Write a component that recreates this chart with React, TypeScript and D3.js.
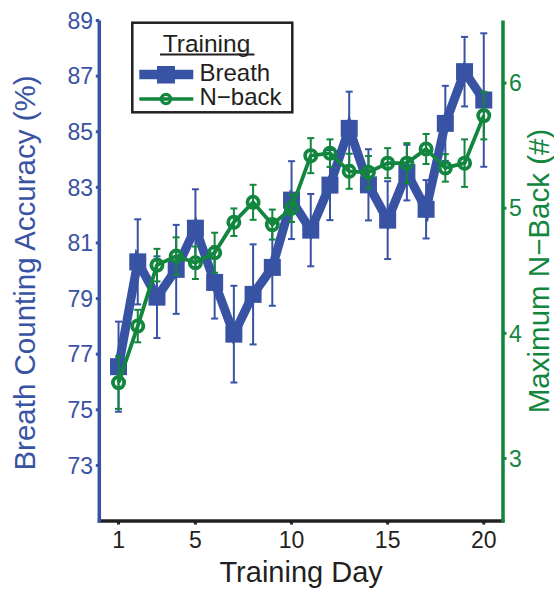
import React from 'react';
import * as d3 from 'd3';

// training day 1..20
const days = [1, 2, 3, 4, 5, 6, 7, 8, 9, 10, 11, 12, 13, 14, 15, 16, 17, 18, 19, 20];
// breath counting accuracy (%), left axis
const breath = [76.55, 80.32, 79.05, 80.05, 81.53, 79.58, 77.72, 79.15, 80.12, 82.54, 81.46, 83.08, 85.12, 83.09, 81.82, 83.53, 82.21, 85.3, 87.16, 86.14];
const breathErr = [1.62, 1.53, 1.47, 1.6, 1.4, 1.3, 1.74, 1.8, 1.38, 1.4, 1.3, 1.26, 1.32, 1.28, 1.4, 1.0, 1.05, 1.35, 1.25, 2.4];
// maximum n-back, right axis
const nback = [3.606, 4.058, 4.545, 4.617, 4.564, 4.644, 4.888, 5.047, 4.869, 5.0, 5.42, 5.44, 5.295, 5.287, 5.36, 5.36, 5.473, 5.322, 5.36, 5.74];
const nbackErr = [0.21, 0.13, 0.13, 0.15, 0.13, 0.16, 0.11, 0.14, 0.12, 0.11, 0.14, 0.11, 0.14, 0.13, 0.12, 0.16, 0.12, 0.11, 0.19, 0.19];

const xTicks = [1, 5, 10, 15, 20];
const leftTicks = [73, 75, 77, 79, 81, 83, 85, 87, 89];
const rightTicks = [3, 4, 5, 6];

const BLUE = '#3953a4';
const GREEN = '#12853f';
const FONT = 'Liberation Sans, Arial, Helvetica, sans-serif';

const W = 554;
const H = 589;
const plot = { left: 99.3, right: 503, top: 20.5, bottom: 521 };

export default function App() {
  const x = d3.scaleLinear().domain([0, 21]).range([plot.left, plot.right]);
  const yL = d3.scaleLinear().domain([71, 89]).range([plot.bottom, plot.top]);
  const yR = d3.scaleLinear().domain([2.5, 6.5]).range([plot.bottom, plot.top]);

  const breathLine = d3.line<number>().x((_, i) => x(days[i])).y(d => yL(d));
  const nbackLine = d3.line<number>().x((_, i) => x(days[i])).y(d => yR(d));

  const cap = 3.5;

  return (
    <svg width={W} height={H} style={{ position: 'absolute', left: 0, top: 0, background: '#fff' }} fontFamily={FONT}>
      {/* breath series */}
      <path d={breathLine(breath) || ''} fill="none" stroke={BLUE} strokeWidth={9} strokeLinejoin="miter" />
      {breath.map((v, i) => (
        <rect key={'bs' + i} x={x(days[i]) - 8.5} y={yL(v) - 8.5} width={17} height={17} fill={BLUE} />
      ))}
      {breath.map((v, i) => {
        const cx = x(days[i]);
        const t = yL(v + breathErr[i]);
        const b = yL(v - breathErr[i]);
        return (
          <g key={'be' + i} stroke={BLUE} strokeWidth={2}>
            <line x1={cx} x2={cx} y1={t} y2={b} />
            <line x1={cx - cap} x2={cx + cap} y1={t} y2={t} />
            <line x1={cx - cap} x2={cx + cap} y1={b} y2={b} />
          </g>
        );
      })}

      {/* n-back series */}
      <path d={nbackLine(nback) || ''} fill="none" stroke={GREEN} strokeWidth={3.8} />
      {nback.map((v, i) => {
        const cx = x(days[i]);
        const t = yR(v + nbackErr[i]);
        const b = yR(v - nbackErr[i]);
        return (
          <g key={'ne' + i} stroke={GREEN} strokeWidth={2}>
            <line x1={cx} x2={cx} y1={t} y2={b} />
            <line x1={cx - cap} x2={cx + cap} y1={t} y2={t} />
            <line x1={cx - cap} x2={cx + cap} y1={b} y2={b} />
          </g>
        );
      })}
      {nback.map((v, i) => (
        <circle key={'nc' + i} cx={x(days[i])} cy={yR(v)} r={5.6} fill="none" stroke={GREEN} strokeWidth={3.8} />
      ))}

      {/* bottom axis */}
      <line x1={plot.left - 1.5} x2={plot.right + 1.5} y1={plot.bottom} y2={plot.bottom} stroke="#231f20" strokeWidth={3.5} />
      {xTicks.map(t => (
        <g key={'xt' + t}>
          <line x1={x(t)} x2={x(t)} y1={plot.bottom} y2={plot.bottom + 3.5} stroke="#231f20" strokeWidth={3} />
          <text x={x(t)} y={548} textAnchor="middle" fontSize={23} fill="#231f20">{t}</text>
        </g>
      ))}
      <text x={(plot.left + plot.right) / 2} y={581.5} textAnchor="middle" fontSize={29} fill="#231f20">Training Day</text>

      {/* left axis */}
      <line x1={plot.left} x2={plot.left} y1={plot.top} y2={plot.bottom + 1.5} stroke={BLUE} strokeWidth={3.5} />
      {leftTicks.map(t => (
        <g key={'lt' + t}>
          <line x1={plot.left - 3.5} x2={plot.left} y1={yL(t)} y2={yL(t)} stroke={BLUE} strokeWidth={3} />
          <text x={93} y={yL(t)} dy="0.36em" textAnchor="end" fontSize={23} fill={BLUE}>{t}</text>
        </g>
      ))}
      <text transform={`translate(35,${273}) rotate(-90)`} textAnchor="middle" fontSize={29.5} fill={BLUE}>
        Breath Counting Accuracy (%)
      </text>

      {/* right axis */}
      <line x1={plot.right} x2={plot.right} y1={plot.top} y2={plot.bottom + 1.5} stroke={GREEN} strokeWidth={3.5} />
      {rightTicks.map(t => (
        <g key={'rt' + t}>
          <line x1={plot.right} x2={plot.right + 3.5} y1={yR(t)} y2={yR(t)} stroke={GREEN} strokeWidth={3} />
          <text x={509} y={yR(t)} dy="0.36em" textAnchor="start" fontSize={23} fill={GREEN}>{t}</text>
        </g>
      ))}
      <text transform={`translate(548.5,${271}) rotate(-90)`} textAnchor="middle" fontSize={29.5} fill={GREEN}>
        Maximum N−Back (#)
      </text>

      {/* legend */}
      <rect x={132.3} y={22.7} width={160} height={89.6} fill="#fff" stroke="#231f20" strokeWidth={2.5} />
      <text x={206.5} y={51.5} textAnchor="middle" fontSize={24.5} fill="#231f20">Training</text>
      <line x1={160} x2={254.5} y1={54.5} y2={54.5} stroke="#231f20" strokeWidth={2} />
      <line x1={139.3} x2={193.3} y1={74.5} y2={74.5} stroke={BLUE} strokeWidth={9.5} />
      <rect x={157} y={66} width={18} height={17.5} fill={BLUE} />
      <text x={199.5} y={80.5} fontSize={24} fill="#231f20">Breath</text>
      <line x1={139.3} x2={193.3} y1={99} y2={99} stroke={GREEN} strokeWidth={3.5} />
      <circle cx={166} cy={99} r={4.6} fill="none" stroke={GREEN} strokeWidth={3.2} />
      <text x={199.5} y={104.5} fontSize={24} fill="#231f20">N−back</text>
    </svg>
  );
}
